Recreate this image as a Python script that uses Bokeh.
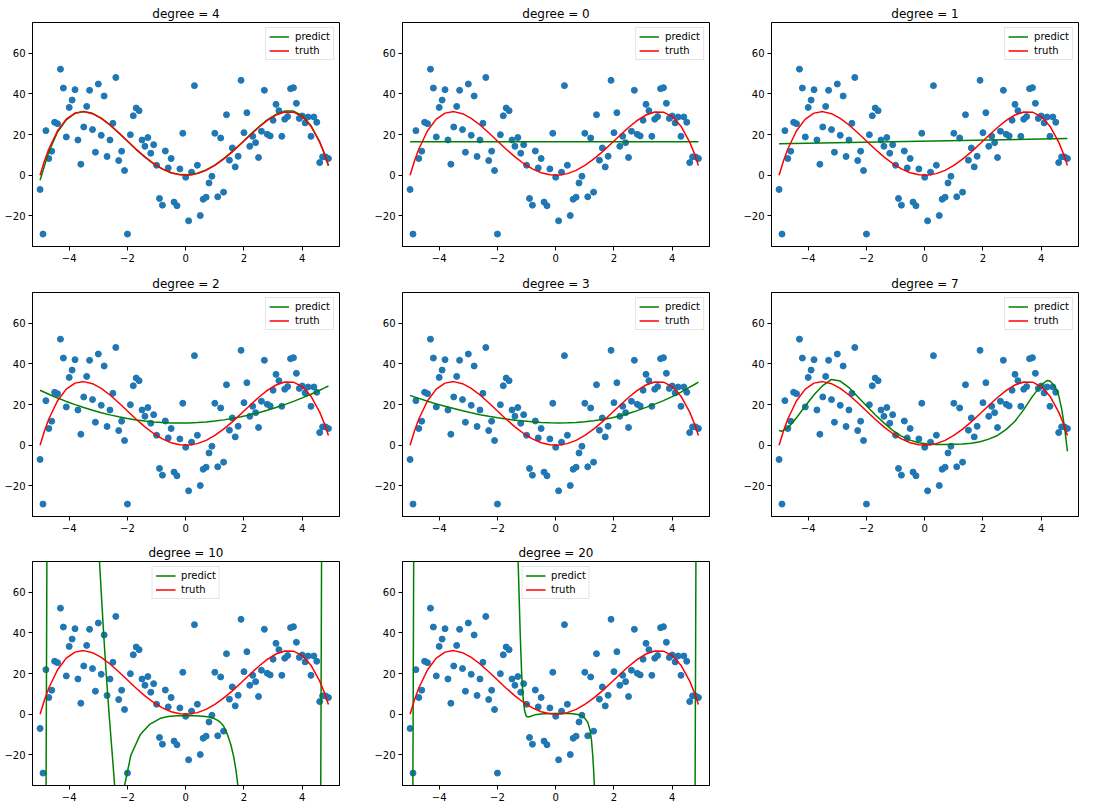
from bokeh.plotting import figure
from bokeh.layouts import column, row
from bokeh.models import FixedTicker
from bokeh.embed import file_html
from bokeh.resources import INLINE

# ---------------- data ----------------
px = [-5.0, -4.9, -4.8, -4.7, -4.6, -4.5, -4.4, -4.3, -4.2, -4.1,
      -4.0, -3.9, -3.8, -3.7, -3.6, -3.5, -3.4, -3.3, -3.2, -3.1,
      -3.0, -2.9, -2.8, -2.7, -2.6, -2.5, -2.4, -2.3, -2.2, -2.1,
      -2.0, -1.9, -1.8, -1.7, -1.6, -1.5, -1.4, -1.3, -1.2, -1.1,
      -1.0, -0.9, -0.8, -0.7, -0.6, -0.5, -0.4, -0.3, -0.2, -0.1,
      0.0, 0.1, 0.2, 0.3, 0.4, 0.5, 0.6, 0.7, 0.8, 0.9,
      1.0, 1.1, 1.2, 1.3, 1.4, 1.5, 1.6, 1.7, 1.8, 1.9,
      2.0, 2.1, 2.2, 2.3, 2.4, 2.5, 2.6, 2.7, 2.8, 2.9,
      3.0, 3.1, 3.2, 3.3, 3.4, 3.5, 3.6, 3.7, 3.8, 3.9,
      4.0, 4.1, 4.2, 4.3, 4.4, 4.5, 4.6, 4.7, 4.8, 4.9]
py = [-7.0, -28.9, 21.9, 8.2, 11.8, 26.0, 25.3, 52.1, 42.8, 18.8,
      33.3, 36.9, 42.0, 17.3, 5.4, 23.7, 33.8, 41.7, 22.4, 11.3,
      44.8, 19.6, 38.9, 9.2, 17.3, 25.5, 48.0, 7.2, 11.8, 2.3,
      -28.9, 19.9, 29.2, 33.0, 31.7, 17.3, 14.2, 18.5, 10.8, 15.0,
      4.9, -11.4, -14.7, 11.9, 3.6, 8.2, -13.2, -15.0, 3.1, 20.6,
      -1.0, -22.4, 1.5, 44.0, 4.9, -19.8, -11.8, -10.8, -3.8, -0.5,
      20.6, -10.6, 18.3, -8.3, 29.7, 7.4, 13.4, 4.1, 9.3, 46.6,
      20.9, 30.7, 14.2, 19.1, 16.0, 8.7, 21.6, 41.7, 20.1, 19.3,
      27.0, 34.8, 31.7, 19.1, 27.5, 28.8, 42.5, 43.0, 35.3, 27.9,
      29.1, 25.7, 28.6, 19.1, 28.6, 26.0, 6.2, 9.0, 9.0, 8.2]

cx = [-5.0, -4.85, -4.7, -4.4, -4.1, -3.8, -3.5, -3.2, -2.9, -2.6, -2.3, -2.0,
      -1.7, -1.4, -1.1, -0.8, -0.5, -0.2, 0.1, 0.4, 0.7, 1.0, 1.3, 1.6, 1.9,
      2.2, 2.5, 2.8, 3.1, 3.4, 3.7, 4.0, 4.3, 4.6, 4.75, 4.9]
truth_y = [0.0, 6.95, 12.86, 21.84, 27.53, 30.50, 31.24, 30.23, 27.90, 24.66, 20.85, 16.80,
           12.78, 9.03, 5.76, 3.12, 1.24, 0.20, 0.05, 0.79, 2.40, 4.80, 7.88, 11.49, 15.44,
           19.51, 23.44, 26.91, 29.58, 31.07, 30.97, 28.80, 24.07, 16.25, 11.00, 4.75]

deg4_y = [-2.5, 4.6, 11.4, 21.2, 27.2, 30.4, 31.3, 30.4, 28.0, 24.7, 20.8, 16.7,
          12.6, 8.9, 5.6, 3.0, 1.2, 0.3, 0.2, 1.0, 2.6, 5.0, 8.1, 11.7, 15.6,
          19.7, 23.7, 27.2, 29.9, 31.5, 31.5, 29.2, 24.4, 16.4, 11.0, 4.6]
deg2_y = [27.0, 26.0, 25.05, 23.21, 21.51, 19.94, 18.49, 17.17, 15.97, 14.9, 13.95, 13.14,
          12.44, 11.88, 11.44, 11.12, 10.94, 10.87, 10.93, 11.12, 11.44, 11.88, 12.45, 13.14, 13.97,
          14.91, 15.99, 17.18, 18.5, 19.96, 21.53, 23.24, 25.06, 27.02, 28.03, 29.1]
deg3_y = [24.5, 23.7, 23.0, 21.6, 20.3, 19.1, 18.0, 16.9, 15.9, 15.0, 14.2, 13.5,
          12.9, 12.3, 11.9, 11.5, 11.2, 11.0, 10.9, 11.0, 11.2, 11.5, 12.0, 12.6, 13.4,
          14.4, 15.6, 17.0, 18.6, 20.2, 21.9, 23.9, 26.1, 28.5, 29.7, 31.0]

d0x = [-5.0, 4.9]
deg0_y = [16.5, 16.5]
deg1_y = [15.5, 18.0]

d7x = [-5.0, -4.9, -4.7, -4.4, -4.1, -3.8, -3.5, -3.2, -2.9, -2.6, -2.3, -2.0, -1.7, -1.4,
       -1.1, -0.8, -0.5, -0.2, 0.1, 0.4, 0.7, 1.0, 1.3, 1.6, 1.9, 2.2, 2.5, 2.8, 3.1, 3.4,
       3.7, 4.0, 4.2, 4.3, 4.4, 4.5, 4.6, 4.7, 4.8, 4.9]
deg7_y = [7.2, 6.9, 8.5, 13.5, 19.3, 24.8, 29.3, 32.3, 31.5, 28.3, 23.8, 19.4, 15.0, 11.0,
          7.3, 4.5, 2.5, 1.2, 0.6, 0.4, 0.4, 0.5, 0.6, 1.0, 1.7, 3.0, 4.8, 7.8, 11.8, 17.5,
          24.0, 29.5, 31.8, 31.5, 30.0, 28.0, 24.5, 18.0, 9.0, -3.0]

d10x = [-5.0, -4.80, -4.76, -4.5, -3.5, -3.05, -2.96, -2.90, -2.82, -2.73, -2.63, -2.52, -2.44,
        -2.3, -2.2, -2.10, -1.88, -1.56, -1.24, -0.87, -0.6, -0.3, 0.0, 0.3, 0.6, 0.8, 0.96,
        1.1, 1.19, 1.3, 1.42, 1.55, 1.65, 1.73, 1.80, 1.9, 3.0, 4.60, 4.63, 4.67, 4.9]
deg10_y = [-500, -60, 100, 400, 300, 110, 75, 60, 40, 20, 0, -20, -35,
           -55, -50, -35, -20, -10, -5, -2, -1.1, -0.8, -0.8, -0.8, -1.0, -1.4, -2.0,
           -3.0, -4.0, -5.8, -9.5, -15, -21, -28, -36, -60, -400, -200, -60, 100, 800]

d20x = [-5.0, -4.91, -4.87, -4.5, -2.0, -1.40, -1.29, -1.22, -1.17, -1.12, -1.07, -1.02, -0.95,
        -0.85, -0.72, -0.5, -0.2, 0.1, 0.4, 0.6, 0.8, 0.9, 1.0, 1.1, 1.18, 1.23, 1.27, 1.30,
        1.33, 1.4, 3.0, 4.78, 4.82, 4.9]
deg20_y = [-500, -60, 100, 800, 800, 200, 75, 40, 20, 8, 2, -0.8, -1.4,
           -1.0, -0.3, 0.1, 0.3, 0.3, 0.3, 0.2, -0.3, -0.8, -2.0, -4.0, -8, -13, -20, -27,
           -36, -80, -800, -60, 100, 500]

x_ticks = [-4, -2, 0, 2, 4]
x_tick_labels = ["\u22124", "\u22122", "0", "2", "4"]
y_ticks = [-20, 0, 20, 40, 60]
y_tick_labels = ["\u221220", "0", "20", "40", "60"]

panels = [
    ("degree = 4", cx, deg4_y, "top_right"),
    ("degree = 0", d0x, deg0_y, "top_right"),
    ("degree = 1", d0x, deg1_y, "top_right"),
    ("degree = 2", cx, deg2_y, "top_right"),
    ("degree = 3", cx, deg3_y, "top_right"),
    ("degree = 7", d7x, deg7_y, "top_right"),
    ("degree = 10", d10x, deg10_y, "top_center"),
    ("degree = 20", d20x, deg20_y, "top_center"),
]

col_w = [370, 370, 353]
col_l = [32, 32, 31]
col_r = [31, 31, 15]
row_h = [270, 270, 271]
row_t = [22, 22, 21]
row_b = [24, 24, 26]

FONT = "DejaVu Sans"


def make_panel(i, title, gx, gy, loc):
    r, c = divmod(i, 3)
    p = figure(width=col_w[c], height=row_h[r],
               x_range=(-5.26, 5.28), y_range=(-35, 75),
               output_backend="svg", toolbar_location=None,
               min_border_left=col_l[c], min_border_right=col_r[c],
               min_border_top=row_t[r], min_border_bottom=row_b[r],
               title=title)
    p.title.align = "center"
    p.title.text_font = FONT
    p.title.text_font_size = "12px"
    p.title.text_font_style = "normal"
    p.title.text_color = "black"
    p.title.standoff = 4
    p.xgrid.visible = False
    p.ygrid.visible = False
    p.outline_line_color = "black"
    p.outline_line_width = 1
    p.background_fill_color = "white"
    p.border_fill_color = "white"

    p.xaxis.ticker = FixedTicker(ticks=x_ticks)
    p.xaxis.major_label_overrides = dict(zip(x_ticks, x_tick_labels))
    p.yaxis.ticker = FixedTicker(ticks=y_ticks)
    p.yaxis.major_label_overrides = dict(zip(y_ticks, y_tick_labels))
    for ax in (p.xaxis[0], p.yaxis[0]):
        ax.axis_line_color = "black"
        ax.major_tick_line_color = "black"
        ax.minor_tick_line_color = None
        ax.major_tick_in = 0
        ax.major_tick_out = 4
        ax.major_label_standoff = 3
        ax.major_label_text_font = FONT
        ax.major_label_text_font_size = "10px"
        ax.major_label_text_color = "black"

    p.scatter(px, py, size=6, fill_color="#1f77b4", line_color="#1f77b4", line_width=1)
    p.line(gx, gy, line_color="green", line_width=1.5, legend_label="predict")
    p.line(cx, truth_y, line_color="red", line_width=1.5, legend_label="truth")

    lg = p.legend[0]
    lg.location = loc
    lg.margin = 5
    lg.padding = 3
    lg.spacing = 3
    lg.glyph_width = 20
    lg.glyph_height = 11
    lg.label_height = 11
    lg.label_standoff = 6
    lg.label_text_font = FONT
    lg.label_text_font_size = "10px"
    lg.label_text_color = "black"
    lg.border_line_color = "#cccccc"
    lg.border_line_width = 1
    lg.background_fill_alpha = 0.8
    return p


figs = [make_panel(i, *pn) for i, pn in enumerate(panels)]
layout = column(row(figs[0], figs[1], figs[2]),
                row(figs[3], figs[4], figs[5]),
                row(figs[6], figs[7]))

open("out.html", "w").write(file_html(layout, INLINE))
